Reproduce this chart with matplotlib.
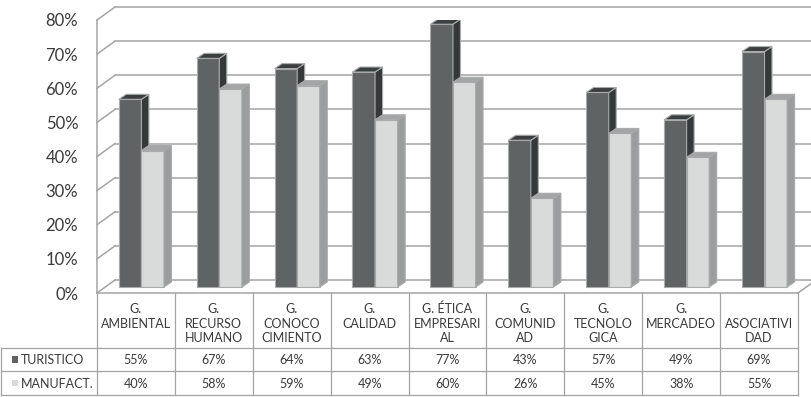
import numpy as np
import matplotlib.pyplot as plt
from matplotlib.patches import Rectangle, Polygon

plt.rcParams['font.family'] = ['Lato', 'DejaVu Sans']

categories = ["G.\nAMBIENTAL\n", "G.\nRECURSO\nHUMANO", "G.\nCONOCO\nCIMIENTO",
              "G.\nCALIDAD\n", "G. ÉTICA\nEMPRESARI\nAL", "G.\nCOMUNID\nAD",
              "G.\nTECNOLO\nGICA", "G.\nMERCADEO\n", "\nASOCIATIVI\nDAD"]
series = ["TURISTICO", "MANUFACT."]
turistico = [55, 67, 64, 63, 77, 43, 57, 49, 69]
manufact = [40, 58, 59, 49, 60, 26, 45, 38, 55]
yticks = [0, 10, 20, 30, 40, 50, 60, 70, 80]

# face colours: front, side, top
dark = ('#606364', '#35393a', '#3c3f40')
light = ('#d9dada', '#9b9d9e', '#a3a5a6')
grid_c = '#a4a4a4'
text_c = '#3a3a3a'

W, H = 812, 397
fig = plt.figure(figsize=(W / 100, H / 100), dpi=100)

# front plane of the 3d chart: x 97..798 px, y 0% at 293 px, 80% at 20 px
x_l, x_r, y_0, y_80 = 97, 798, 293, 20
ax = fig.add_axes([x_l / W, (H - y_0) / H, (x_r - x_l) / W, (y_0 - y_80) / H])
n = len(categories)
ax.set_xlim(0, n)
ax.set_ylim(0, 80)
for s in ax.spines.values():
    s.set_visible(False)
ax.set_xticks([])
ax.set_yticks(yticks)
ax.set_yticklabels([f"{v}%" for v in yticks], fontsize=12, color=text_c)
ax.tick_params(axis='y', length=0, pad=13.5)

px_x = (x_r - x_l) / n
px_y = (y_0 - y_80) / 80

# back wall and left wall
wdx, wdy = 18 / px_x, 13 / px_y
right_end = (W - x_l) / px_x
for v in yticks:
    ax.plot([wdx, right_end], [v + wdy, v + wdy], color=grid_c, lw=1.1, clip_on=False, zorder=1)
    ax.plot([0, wdx], [v, v + wdy], color=grid_c, lw=1.1, clip_on=False, zorder=1)
ax.plot([0, 0], [0, 80], color=grid_c, lw=1.1, clip_on=False, zorder=1)
ax.plot([n, n + wdx], [0, wdy], color=grid_c, lw=1.1, clip_on=False, zorder=1)

# 3d bars
bw = 0.29
bdx, bdy = 7.5 / px_x, 5 / px_y
base = 6 / px_y


def bar3d(x0, v, cols):
    f, s, t = cols
    ax.add_patch(Rectangle((x0, base), bw, v, facecolor=f, edgecolor='#a9abab', lw=0.8, zorder=3))
    ax.add_patch(Polygon([(x0 + bw, base), (x0 + bw + bdx, base + bdy),
                          (x0 + bw + bdx, base + v + bdy), (x0 + bw, base + v)],
                         closed=True, facecolor=s, edgecolor='#a9abab', lw=0.8, zorder=3))
    ax.add_patch(Polygon([(x0, base + v), (x0 + bdx, base + v + bdy),
                          (x0 + bw + bdx, base + v + bdy), (x0 + bw, base + v)],
                         closed=True, facecolor=t, edgecolor='#a9abab', lw=0.8, zorder=3))


for i in range(n):
    bar3d(i + 0.28, turistico[i], dark)
    bar3d(i + 0.28 + bw, manufact[i], light)

# data table below, in pixel coordinates
tab = fig.add_axes([0, 0, 1, 1])
tab.set_xlim(0, W)
tab.set_ylim(H, 0)
tab.axis('off')
edges = np.linspace(x_l, x_r, n + 1)
r0, r1, r2, r3 = 293, 348, 371, 395
tab.plot([x_l, x_r], [r0, r0], color=grid_c, lw=1.1)
for r in (r1, r2, r3):
    tab.plot([1, x_r], [r, r], color=grid_c, lw=0.9)
for e in edges:
    tab.plot([e, e], [r0, r3], color=grid_c, lw=0.9)
tab.plot([1, 1], [r1, r3], color=grid_c, lw=0.9)

fs = 9
for i in range(n):
    cx = (edges[i] + edges[i + 1]) / 2
    tab.text(cx, 323.5, categories[i], ha='center', va='center',
             fontsize=fs, color=text_c, linespacing=1.25)
    tab.text(cx, (r1 + r2) / 2 + 0.5, f"{turistico[i]}%", ha='center', va='center',
             fontsize=fs, color=text_c)
    tab.text(cx, (r2 + r3) / 2 + 0.5, f"{manufact[i]}%", ha='center', va='center',
             fontsize=fs, color=text_c)

for (ya, yb), name, col in zip([(r1, r2), (r2, r3)], series, [dark[0], light[0]]):
    cy = (ya + yb) / 2
    tab.add_patch(Rectangle((12, cy - 3.5), 6.5, 6.5, facecolor=col, edgecolor='none'))
    tab.text(20.5, cy + 0.5, name, ha='left', va='center', fontsize=fs, color=text_c)

fig.savefig('out.png', dpi=100)
